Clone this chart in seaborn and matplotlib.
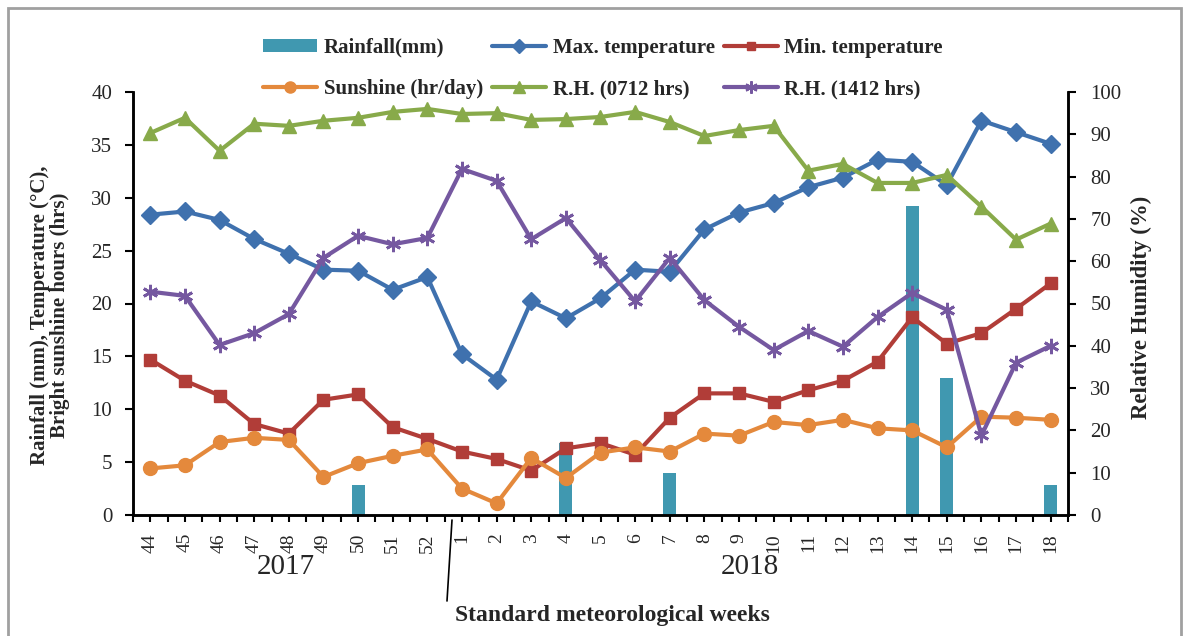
import numpy as np
import pandas as pd
import matplotlib
matplotlib.use("Agg")
import matplotlib.pyplot as plt
import seaborn as sns
from matplotlib.lines import Line2D
from matplotlib.patches import Rectangle, Patch
import matplotlib.transforms as mtransforms

# ---------------- data ----------------
weeks = ["44", "45", "46", "47", "48", "49", "50", "51", "52",
         "1", "2", "3", "4", "5", "6", "7", "8", "9", "10",
         "11", "12", "13", "14", "15", "16", "17", "18"]
rainfall = [0, 0, 0, 0, 0, 0, 2.8, 0, 0,
            0, 0, 0, 6.8, 0, 0, 4.0, 0, 0, 0,
            0, 0, 0, 29.2, 13.0, 0, 0, 2.8]
max_temp = [28.4, 28.7, 27.9, 26.1, 24.7, 23.2, 23.1, 21.3, 22.5,
            15.2, 12.8, 20.2, 18.6, 20.5, 23.2, 23.0, 27.0, 28.6, 29.5,
            31.0, 31.9, 33.6, 33.4, 31.2, 37.3, 36.2, 35.1]
min_temp = [14.7, 12.7, 11.3, 8.6, 7.7, 10.9, 11.4, 8.3, 7.2,
            6.0, 5.3, 4.2, 6.3, 6.8, 5.7, 9.2, 11.5, 11.5, 10.7,
            11.8, 12.7, 14.5, 18.7, 16.2, 17.2, 19.5, 21.9]
sunshine = [4.4, 4.7, 6.9, 7.3, 7.1, 3.6, 4.9, 5.6, 6.2,
            2.5, 1.1, 5.4, 3.5, 5.9, 6.4, 6.0, 7.7, 7.5, 8.8,
            8.5, 9.0, 8.2, 8.0, 6.4, 9.3, 9.2, 9.0]
rh_0712 = [90.3, 93.9, 86.1, 92.5, 92.0, 93.2, 93.9, 95.3, 96.0,
           94.8, 95.0, 93.4, 93.6, 94.1, 95.3, 92.9, 89.6, 91.0, 92.0,
           81.4, 83.0, 78.5, 78.5, 80.4, 72.9, 65.1, 68.9]
rh_1412 = [52.8, 51.8, 40.2, 43.0, 47.5, 60.8, 66.0, 64.0, 65.5,
           81.8, 79.0, 65.2, 70.2, 60.2, 50.5, 60.8, 50.8, 44.5, 39.0,
           43.5, 39.8, 46.8, 52.5, 48.5, 18.8, 36.0, 40.0]
years = ["2017", "2018"]

df = pd.DataFrame({
    "pos": np.arange(len(weeks)),
    "rain": rainfall, "tmax": max_temp, "tmin": min_temp,
    "sun": sunshine, "rh1": rh_0712, "rh2": rh_1412,
})

# ---------------- style ----------------
sns.set_style("white")
plt.rcParams["font.family"] = ["Liberation Serif", "DejaVu Serif"]

c_rain = "#4098B0"
c_max = "#3F71AE"
c_min = "#B13D38"
c_sun = "#E4893C"
c_rh1 = "#88AA4A"
c_rh2 = "#7558A0"

W, H = 1189, 636
fig = plt.figure(figsize=(W / 100, H / 100), dpi=100)
ax = fig.add_axes([133 / W, 1 - 515 / H, (1068 - 133) / W, (515 - 92) / H])
ax2 = ax.twinx()

sns.barplot(data=df, x="pos", y="rain", ax=ax, color=c_rain, width=0.38,
            native_scale=True, saturation=1, linewidth=0, zorder=2)

lw = 3.0
common = dict(linewidth=lw, legend=False)
sns.lineplot(data=df, x="pos", y="tmax", ax=ax, color=c_max, marker="D",
             markersize=9, markeredgecolor=c_max, markeredgewidth=1, zorder=3, **common)
sns.lineplot(data=df, x="pos", y="tmin", ax=ax, color=c_min, marker="s",
             markersize=8, markeredgecolor=c_min, markeredgewidth=1, zorder=3, **common)
sns.lineplot(data=df, x="pos", y="sun", ax=ax, color=c_sun, marker="o",
             markersize=10, markeredgecolor=c_sun, markeredgewidth=1, zorder=3, **common)
sns.lineplot(data=df, x="pos", y="rh1", ax=ax2, color=c_rh1, marker="^",
             markersize=10, markeredgecolor=c_rh1, markeredgewidth=1, zorder=3, **common)
sns.lineplot(data=df, x="pos", y="rh2", ax=ax2, color=c_rh2, marker=(6, 2, 0),
             markersize=11, markeredgecolor=c_rh2, markeredgewidth=2, zorder=3, **common)

for a in (ax, ax2):
    if a.get_legend() is not None:
        a.get_legend().remove()

# ---------------- axes ----------------
n = len(weeks)
ax.set_xlim(-0.5, n - 0.5)
ax.set_ylim(0, 40)
ax2.set_ylim(0, 100)
ax.set_yticks(np.arange(0, 41, 5))
ax2.set_yticks(np.arange(0, 101, 10))
ax.set_xticks(np.arange(n))
ax.set_xticklabels(weeks, rotation=90, fontsize=14)
ax.set_xticks(np.arange(-0.5, n, 1), minor=True)
ax.tick_params(axis="x", which="both", direction="out", length=5, width=1.5,
               color="black", pad=8, bottom=True)
ax.tick_params(axis="y", direction="out", length=6, width=1.5, color="black",
               labelsize=15, pad=9, left=True)
ax2.tick_params(axis="y", direction="out", length=6, width=1.5, color="black",
                labelsize=15, pad=10, right=True)
ax.set_xlabel("")
ax.set_ylabel("")
ax2.set_ylabel("")
for a in (ax, ax2):
    a.spines["top"].set_visible(False)
    for s in ("left", "right", "bottom"):
        a.spines[s].set_color("black")
        a.spines[s].set_linewidth(1.8)
    a.grid(False)
    a.set_facecolor("none")

# year labels
trans = mtransforms.blended_transform_factory(ax.transData, fig.transFigure)
ax.text(3.9, 1 - 567 / H, years[0], transform=trans, ha="center", va="center",
        fontsize=21)
ax.text(17.3, 1 - 567 / H, years[1], transform=trans, ha="center", va="center",
        fontsize=21)

# separator line between years
fig.add_artist(Line2D([452 / W, 447 / W], [1 - 520 / H, 1 - 601 / H],
                      color="black", linewidth=1.2))

# axis titles
fig.text(612 / W, 1 - 615 / H, "Standard meteorological weeks", ha="center",
         va="center", fontsize=17, fontweight="bold")
fig.text(50 / W, 1 - 315 / H,
         "Rainfall (mm), Temperature (\u00b0C),\nBright sunshine hours (hrs)",
         rotation=90, ha="center", va="center", fontsize=15, fontweight="bold",
         multialignment="center", linespacing=1.05)
fig.text(1141 / W, 1 - 307 / H, "Relative Humidity (%)", rotation=90,
         ha="center", va="center", fontsize=16.5, fontweight="bold")

# legend
h_rain = Patch(facecolor=c_rain, edgecolor="none")
h_max = Line2D([], [], color=c_max, lw=lw, marker="D", markersize=7, markeredgecolor=c_max)
h_min = Line2D([], [], color=c_min, lw=lw, marker="s", markersize=6, markeredgecolor=c_min)
h_sun = Line2D([], [], color=c_sun, lw=lw, marker="o", markersize=8, markeredgecolor=c_sun)
h_rh1 = Line2D([], [], color=c_rh1, lw=lw, marker="^", markersize=8, markeredgecolor=c_rh1)
h_rh2 = Line2D([], [], color=c_rh2, lw=lw, marker=(6, 2, 0), markersize=9,
               markeredgewidth=1.5, markeredgecolor=c_rh2)
handles = [h_rain, h_sun, h_max, h_rh1, h_min, h_rh2]
labels = ["Rainfall(mm)", "Sunshine (hr/day)", "Max. temperature",
          "R.H. (0712 hrs)", "Min. temperature", "R.H. (1412 hrs)"]
fig.legend(handles, labels, ncol=3, loc="center",
           bbox_to_anchor=(603 / W, 1 - 68.5 / H), frameon=False,
           prop={"weight": "bold", "size": 15}, handlelength=2.6,
           handleheight=0.6, handletextpad=0.3, columnspacing=0.45,
           labelspacing=1.05, borderpad=0)

# outer border
fig.add_artist(Rectangle((8 / W, -0.05), (1181 - 8) / W, (1 - 8 / H) + 0.05,
                         transform=fig.transFigure, fill=False,
                         edgecolor="#A0A0A0", linewidth=2))

fig.savefig("out.png", dpi=100)
